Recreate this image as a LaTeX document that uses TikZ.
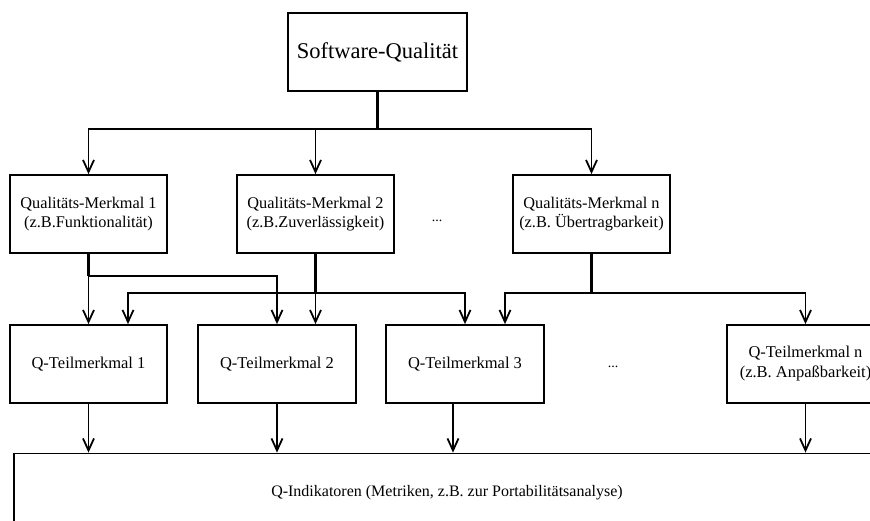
\documentclass[tikz,border=0pt]{standalone}
\usepackage{fontspec}
\setmainfont{Liberation Serif}
\usetikzlibrary{arrows.meta,calc}
\begin{document}
\begin{tikzpicture}[x=1pt,y=-1pt,
  box/.style={draw,line width=1.8pt,minimum width=157pt,minimum height=78pt,
    inner sep=0pt,align=center,font=\fontsize{16.3}{19.5}\selectfont},
  subbox/.style={box,font=\fontsize{16.5}{20}\selectfont},
  link/.style={line width=1.8pt},
  stem/.style={line width=3pt},
  arr/.style={link,-{Straight Barb[length=12pt,width=11pt]}},
  dots/.style={font=\fontsize{14}{16}\selectfont}]
\useasboundingbox (0,0) rectangle (870,520);
\clip (0,0) rectangle (870,520);

% top level
\node[box,minimum width=179pt,font=\fontsize{22.5}{26}\selectfont] (sq) at (377.5,52) {Software-Qualität};

% quality characteristics
\node[box] (m1) at (88.5,214) {Qualitäts-Merkmal 1\\(z.B.Funktionalität)};
\node[box] (m2) at (315.5,214) {Qualitäts-Merkmal 2\\(z.B.Zuverlässigkeit)};
\node[box] (mn) at (591.5,214) {Qualitäts-Merkmal n\\(z.B. Übertragbarkeit)};
\node[dots] (d1) at (437,221) {...};

% sub-characteristics
\node[subbox] (t1) at (88.5,364) {Q-Teilmerkmal 1};
\node[subbox,minimum width=158pt] (t2) at (277,364) {Q-Teilmerkmal 2};
\node[subbox,minimum width=158pt] (t3) at (465,364) {Q-Teilmerkmal 3};
\node[subbox] (tn) at (805.5,364) {Q-Teilmerkmal n\\(z.B. Anpaßbarkeit)};
\node[dots] (d2) at (613,367) {...};

% indicators
\node[box,minimum width=866pt,font=\fontsize{16}{19}\selectfont] (ind) at (447,492.5) {Q-Indikatoren (Metriken, z.B. zur Portabilitätsanalyse)};

% bus levels
\coordinate (y1) at (0,129);
\coordinate (y2) at (0,276);
\coordinate (y3) at (0,293);

% top level to characteristics
\draw[stem] (sq.south) -- (sq.south |- y1);
\draw[arr] (sq.south |- y1) -| (m1.north);
\draw[arr] (sq.south |- y1) -| (m2.north);
\draw[arr] (sq.south |- y1) -| (mn.north);

% characteristic 1
\draw[stem] (m1.south) -- (m1.south |- y2);
\draw[arr] (m1.south |- y2) -- (t1.north);
\draw[arr] (m1.south |- y2) -| (t2.north);

% characteristic 2
\draw[stem] (m2.south) -- (m2.south |- y3);
\draw[arr] (m2.south |- y3) -- (m2.south |- t2.north);
\draw[arr] (m2.south |- y3) -| ($(t1.north)+(39.5,0)$);
\draw[arr] (m2.south |- y3) -| (t3.north);

% characteristic n
\draw[stem] (mn.south) -- (mn.south |- y3);
\draw[arr] (mn.south |- y3) -| ($(t3.north)+(40,0)$);
\draw[arr] (mn.south |- y3) -| (tn.north);

% sub-characteristics to indicators
\draw[arr] (t1.south) -- (t1.south |- ind.north);
\draw[arr] (t2.south) -- (t2.south |- ind.north);
\draw[arr] ($(t3.south)+(-12,0)$) -- ($(t3.south |- ind.north)+(-12,0)$);
\draw[arr] (tn.south) -- (tn.south |- ind.north);
\end{tikzpicture}
\end{document}
